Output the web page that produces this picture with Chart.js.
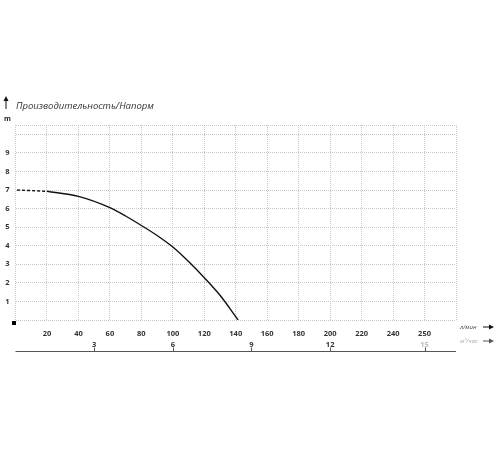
<!DOCTYPE html>
<html>
<head>
<meta charset="utf-8">
<script src="https://cdn.jsdelivr.net/npm/chart.js@4/dist/chart.umd.min.js"></script>
<style>
    html, body { margin: 0; padding: 0; background: #fff; }
    #wrap { width: 500px; height: 450px; position: relative; }
</style>
</head>
<body>
<div id="wrap"><canvas id="pump-chart"></canvas></div>
<script>
// =============================
// PUMP CURVE (head vs flow)
// =============================
const titleText = 'Производительность/Напорм';
const headUnit = 'm';
const flowUnit = 'л/мин';
const flowUnit2 = 'м³/час';

// solid part of the curve, flow in l/min, head in m
const flowLpm = [20, 40, 60, 70, 80, 90, 100, 110, 120, 130, 141.5];
const headM = [6.93, 6.66, 6.05, 5.6, 5.09, 4.55, 3.93, 3.15, 2.28, 1.33, 0];

// dashed start of the curve
const dashFlow = [1, 20];
const dashHead = [7.0, 6.93];

// x tick labels (l/min), keyed by grid value
const flowTicks = [20, 40, 60, 80, 100, 120, 140, 160, 180, 200, 220, 240, 260];
const flowTickLabels = ['20', '40', '60', '80', '100', '120', '140', '160', '180', '200', '220', '240', '250'];

// second scale (m3/h)
const cubicTicks = [3, 6, 9, 12, 15.6];
const cubicTickLabels = ['3', '6', '9', '12', '15'];

const yLabels = ['1', '2', '3', '4', '5', '6', '7', '8', '9'];

const textColor = '#333';
const gridColor = '#c8c8c8';

const toPoints = (xs, ys) => xs.map((x, i) => ({ x: x, y: ys[i] }));

// draws title, unit labels, origin square and the second axis line
const extrasPlugin = {
    id: 'extras',
    afterDraw(chart) {
        const ctx = chart.ctx;
        const area = chart.chartArea;
        const x2 = chart.scales.x2;
        ctx.save();

        // arrow + title
        ctx.fillStyle = '#111';
        ctx.strokeStyle = '#111';
        ctx.lineWidth = 1;
        ctx.beginPath();
        ctx.moveTo(6, 100);
        ctx.lineTo(6, 109);
        ctx.stroke();
        ctx.beginPath();
        ctx.moveTo(6, 96);
        ctx.lineTo(3.5, 101);
        ctx.lineTo(8.5, 101);
        ctx.closePath();
        ctx.fill();

        ctx.fillStyle = textColor;
        ctx.font = 'italic 9.5px "Open Sans"';
        ctx.textBaseline = 'middle';
        ctx.textAlign = 'left';
        ctx.fillText(titleText, 16, 106);

        ctx.font = 'bold 7px "Open Sans"';
        ctx.fillStyle = '#222';
        ctx.fillText(headUnit, 4, 119);

        // origin marker
        ctx.fillStyle = '#000';
        ctx.fillRect(area.left - 3.5, area.bottom + 1, 4, 4);

        // unit labels on the right
        ctx.font = 'italic 6px "Open Sans"';
        ctx.fillStyle = '#444';
        ctx.fillText(flowUnit, 460, 327);
        ctx.fillStyle = '#aaa';
        ctx.fillText(flowUnit2, 460, 341);
        [[327, '#111'], [341, '#555']].forEach(([y, c]) => {
            ctx.strokeStyle = c;
            ctx.fillStyle = c;
            ctx.beginPath();
            ctx.moveTo(483, y);
            ctx.lineTo(490, y);
            ctx.stroke();
            ctx.beginPath();
            ctx.moveTo(494, y);
            ctx.lineTo(489, y - 2.5);
            ctx.lineTo(489, y + 2.5);
            ctx.closePath();
            ctx.fill();
        });

        // second axis baseline with small ticks
        const lineY = x2.bottom - 0.5;
        ctx.strokeStyle = '#555';
        ctx.lineWidth = 1;
        ctx.beginPath();
        ctx.moveTo(area.left, lineY);
        ctx.lineTo(area.right, lineY);
        ctx.stroke();
        cubicTicks.forEach(v => {
            const px = Math.round(x2.getPixelForValue(v)) + 0.5;
            ctx.beginPath();
            ctx.moveTo(px, lineY);
            ctx.lineTo(px, lineY - 4);
            ctx.stroke();
        });
        ctx.restore();
    }
};

const ctx = document.getElementById('pump-chart').getContext('2d');

new Chart(ctx, {
    type: 'line',
    data: {
        datasets: [
            {
                data: toPoints(dashFlow, dashHead),
                borderColor: '#111',
                borderWidth: 1.4,
                borderDash: [3, 2],
                pointRadius: 0,
                tension: 0
            },
            {
                data: toPoints(flowLpm, headM),
                borderColor: '#111',
                borderWidth: 1.4,
                pointRadius: 0,
                cubicInterpolationMode: 'monotone'
            }
        ]
    },
    options: {
        responsive: true,
        maintainAspectRatio: false,
        animation: false,
        layout: { padding: { top: 125, right: 44, bottom: 98, left: 0 } },
        scales: {
            x: {
                type: 'linear',
                position: 'bottom',
                min: 0,
                max: 280,
                afterBuildTicks: s => { s.ticks = [0].concat(flowTicks, [280]).map(v => ({ value: v })); },
                afterFit: s => { s.height = 18; },
                grid: { color: gridColor, lineWidth: 1, drawTicks: false },
                border: { display: false, dash: [1, 1] },
                ticks: {
                    padding: 9,
                    color: textColor,
                    font: { family: 'Open Sans', size: 7.5, weight: 'bold' },
                    maxRotation: 0,
                    autoSkip: false,
                    callback: v => {
                        const i = flowTicks.indexOf(v);
                        return i >= 0 ? flowTickLabels[i] : '';
                    }
                }
            },
            x2: {
                type: 'linear',
                position: 'bottom',
                min: 0,
                max: 280 * 60 / 1000,
                afterBuildTicks: s => { s.ticks = cubicTicks.map(v => ({ value: v })); },
                afterFit: s => { s.height = 14; },
                grid: { display: false, drawTicks: false },
                border: { display: false },
                ticks: {
                    padding: 2,
                    autoSkip: false,
                    maxRotation: 0,
                    color: c => (c.index === cubicTicks.length - 1 ? '#bbb' : textColor),
                    font: { family: 'Open Sans', size: 7.5, weight: 'bold' },
                    callback: (v, i) => cubicTickLabels[i]
                }
            },
            y: {
                type: 'linear',
                min: 0,
                max: 10.5,
                afterBuildTicks: s => {
                    const t = [];
                    for (let v = 0; v <= 10; v++) t.push({ value: v });
                    t.push({ value: 10.5 });
                    s.ticks = t;
                },
                afterFit: s => { s.width = 15.5; },
                grid: { color: gridColor, lineWidth: 1, drawTicks: false },
                border: { display: false, dash: [1, 1] },
                ticks: {
                    padding: 6,
                    color: textColor,
                    font: { family: 'Open Sans', size: 7.5, weight: 'bold' },
                    callback: v => (v >= 1 && v <= 9 && Number.isInteger(v) ? yLabels[v - 1] : '')
                }
            }
        },
        plugins: {
            legend: { display: false },
            tooltip: { enabled: false },
            title: { display: false }
        }
    },
    plugins: [extrasPlugin]
});
</script>
</body>
</html>
